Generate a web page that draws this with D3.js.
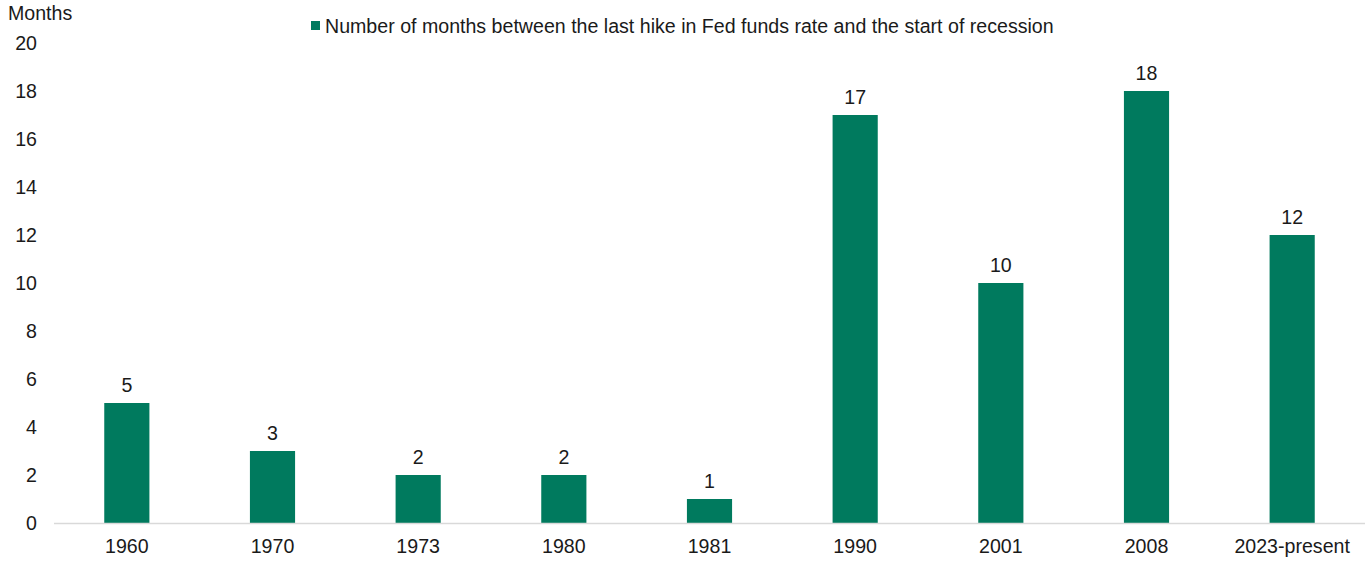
<!DOCTYPE html>
<html><head><meta charset="utf-8">
<script src="https://cdn.jsdelivr.net/npm/d3@7"></script>
<style>body{margin:0;background:#fff}svg text{font-family:"Liberation Sans",Arial,sans-serif;fill:#1a1a1a}</style>
</head><body><svg id="c" width="1370" height="561"></svg>
<script>
const categories = ["1960","1970","1973","1980","1981","1990","2001","2008","2023-present"];
const months = [5,3,2,2,1,17,10,18,12];
const yTicks = [0,2,4,6,8,10,12,14,16,18,20];
const seriesName = "Number of months between the last hike in Fed funds rate and the start of recession";
const yTitle = "Months";
const color = "#007a5e";
const fs = 19.6;

const svg = d3.select("#c");
const x = d3.scaleBand().domain(categories).range([54, 1365]).paddingInner(0.69).paddingOuter(0.345);
const y = d3.scaleLinear().domain([0,20]).range([523, 43]);

svg.append("g").selectAll("text").data(yTicks).join("text")
  .attr("x", 37).attr("y", d => y(d)).attr("dy", "0.35em")
  .attr("text-anchor", "end").attr("font-size", fs).text(d => d);

svg.append("text").attr("x", 8).attr("y", 20).attr("font-size", fs).text(yTitle);

svg.append("g").selectAll("rect").data(months).join("rect")
  .attr("x", (d,i) => x(categories[i])).attr("width", x.bandwidth())
  .attr("y", d => y(d)).attr("height", d => y(0) - y(d)).attr("fill", color);

svg.append("line").attr("x1", 54).attr("x2", 1365).attr("y1", y(0)+0.5).attr("y2", y(0)+0.5)
  .attr("stroke", "#d9d9d9").attr("stroke-width", 1.5);

svg.append("g").selectAll("text").data(months).join("text")
  .attr("x", (d,i) => x(categories[i]) + x.bandwidth()/2).attr("y", d => y(d) - 11)
  .attr("text-anchor", "middle").attr("font-size", fs).text(d => d);

svg.append("g").selectAll("text").data(categories).join("text")
  .attr("x", d => x(d) + x.bandwidth()/2).attr("y", 553)
  .attr("text-anchor", "middle").attr("font-size", fs).text(d => d);

svg.append("rect").attr("x", 311).attr("y", 21).attr("width", 9).attr("height", 9).attr("fill", color);
svg.append("text").attr("x", 325).attr("y", 33).attr("font-size", fs).text(seriesName);
</script></body></html>
